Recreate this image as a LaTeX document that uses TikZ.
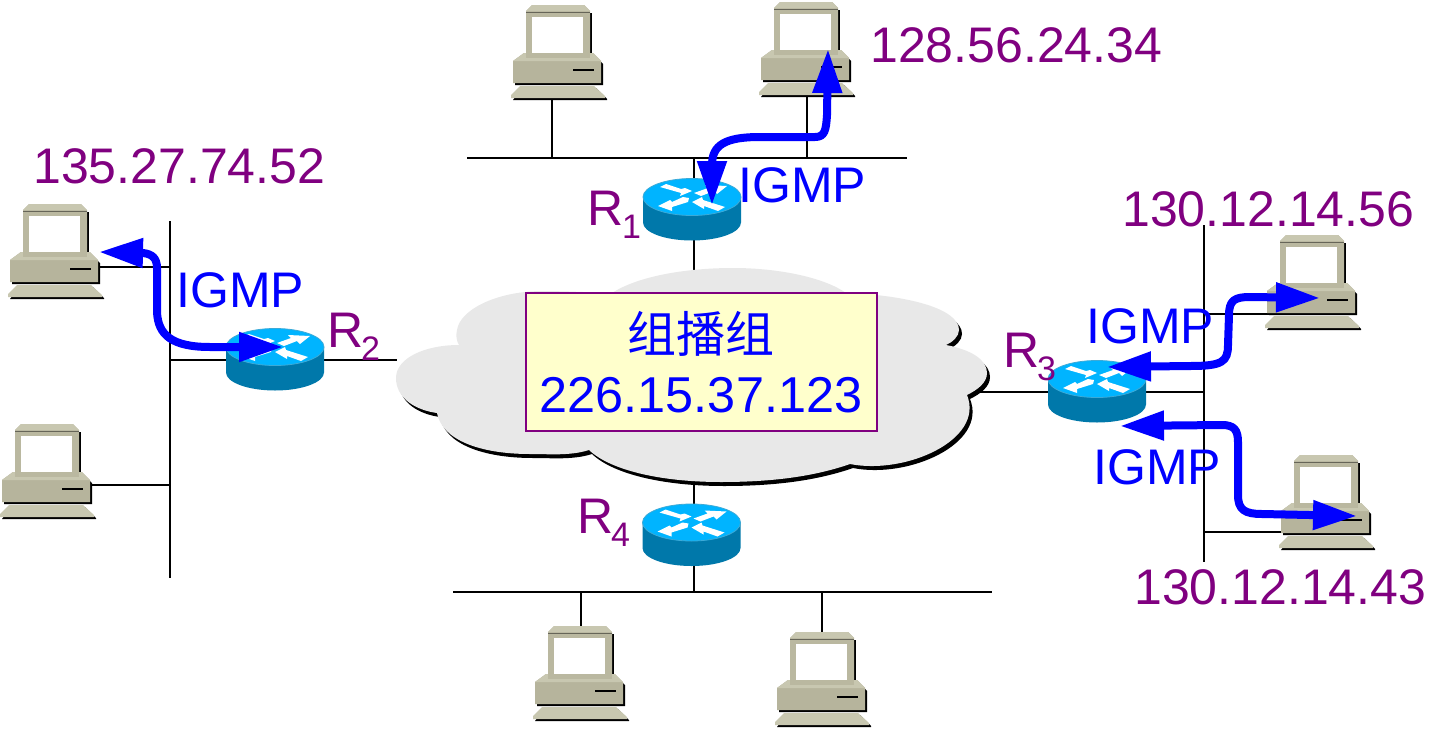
\documentclass[tikz,border=0pt]{standalone}
\usepackage{fontspec}
\setmainfont{Liberation Sans}
\newfontfamily\cjkf{Noto Sans CJK SC}
\usetikzlibrary{arrows.meta}
\definecolor{igmpblue}{RGB}{0,0,255}
\definecolor{lab}{RGB}{128,0,128}
\definecolor{monc}{RGB}{186,184,160}
\definecolor{basec}{RGB}{182,180,156}
\definecolor{keyc}{RGB}{200,199,176}
\definecolor{rtop}{RGB}{0,180,255}
\definecolor{rside}{RGB}{0,120,170}
\definecolor{rrim}{RGB}{60,170,215}
\definecolor{cloudc}{RGB}{232,232,232}
\definecolor{boxc}{RGB}{255,255,204}
\tikzset{
 x=1pt,y=-1pt,
 wire/.style={black,line width=2pt},
 sig/.style={igmpblue,line width=8pt,line join=round,{Triangle[length=44pt,width=28pt]}-{Triangle[length=44pt,width=28pt]}},
 addr/.style={anchor=base west,inner sep=0pt,text=lab,font=\fontsize{50}{50}\selectfont},
 rlab/.style={anchor=base west,inner sep=0pt,text=lab,font=\fontsize{50}{50}\selectfont},
 rsub/.style={anchor=base west,inner sep=0pt,text=lab,font=\fontsize{34}{34}\selectfont},
 igmp/.style={anchor=base west,inner sep=0pt,text=igmpblue,font=\fontsize{50}{50}\selectfont},
 computer/.pic={
  % keyboard
  \fill[black] (-4,83)--(70,83)--(81,94)--(81,95)--(-13,95)--cycle;
  \fill[keyc] (-6,81)--(68,81)--(79,91)--(79,93)--(-15,93)--(-15,90)--cycle;
  % monitor
  \fill[black] (3,8) rectangle (66,53);
  \fill[monc] (6,0)--(58,0)--(64,6)--(64,53)--(0,53)--(0,6)--cycle;
  \fill[keyc] (6,0)--(58,0)--(64,6)--(0,6)--cycle;
  \fill[white] (6,12) rectangle (57,48);
  \draw[black!45!monc,line width=.8pt] (0,7)--(64,7);
  % base
  \fill[black] (-11,59)--(-11,80)--(77,80)--(77,59)--(70,52)--(65,52)--(65,59)--cycle;
  \fill[basec] (-2,48)--(67,48)--(75,56)--(75,78)--(-13,78)--(-13,56)--cycle;
  \fill[keyc] (-2,48)--(67,48)--(75,56)--(-13,56)--cycle;
  \fill[monc] (0,48) rectangle (64,53);
  \draw[black,line width=1.2pt] (47,65)--(68,65);
 },
 router/.pic={
  \fill[rside] (-49,0)--(-49,25.5) arc[start angle=180,end angle=360,x radius=49pt,y radius=18pt]--(49,0)--cycle;
  \fill[rtop,draw=rrim,line width=.8pt] (0,0) ellipse[x radius=49pt,y radius=18.5pt];
  \fill[white] (-32,-10)--(-26,-13)--(-11,-8)--(-7,-9)--(0,-6)--(-12,-1)--(-11,-4)--cycle;
  \fill[white] (2,-4)--(16,-9)--(13,-12)--(35,-11)--(25,-3)--(22,-6)--(9,-1)--cycle;
  \fill[white] (-3,1)--(-9,0)--(-20,5)--(-22,3)--(-34,9)--(-20,14)--(-20,10)--(-4,5)--cycle;
  \fill[white] (0,5)--(10,0)--(11,3)--(33,10)--(26,14)--(12,9)--(12,12)--cycle;
 },
}
\begin{document}
\begin{tikzpicture}
\useasboundingbox (0,0) rectangle (1456,728);
\fill[white] (0,0) rectangle (1456,728);
% bus ends and taps
\coordinate (n1w) at (467,158); \coordinate (n1e) at (907,158);
\coordinate (n1a) at (552,158); \coordinate (pc1a) at (552,95);
\coordinate (n1b) at (807,158); \coordinate (pc1b) at (807,92);
\coordinate (n1c) at (694,158); \coordinate (r1in) at (694,270);
\coordinate (n2n) at (170,221); \coordinate (n2s) at (170,578);
\coordinate (n2a) at (170,267); \coordinate (pc2a) at (95,267);
\coordinate (n2r) at (170,360); \coordinate (r2in) at (397,360);
\coordinate (n2b) at (170,485); \coordinate (pc2b) at (88,485);
\coordinate (n3n) at (1204,225); \coordinate (n3s) at (1204,562);
\coordinate (n3a) at (1204,314); \coordinate (pc3a) at (1275,314);
\coordinate (n3r) at (1204,392); \coordinate (r3in) at (965,392);
\coordinate (n3b) at (1204,532); \coordinate (pc3b) at (1290,532);
\coordinate (n4w) at (453,592); \coordinate (n4e) at (992,592);
\coordinate (n4a) at (581,592); \coordinate (pc4a) at (581,630);
\coordinate (n4b) at (822,592); \coordinate (pc4b) at (822,636);
\coordinate (n4c) at (694,592); \coordinate (r4in) at (694,475);
\draw[wire] (n1w)--(n1e);
\draw[wire] (n1a)--(pc1a);
\draw[wire] (n1b)--(pc1b);
\draw[wire] (n1c)--(r1in);
\draw[wire] (n2n)--(n2s);
\draw[wire] (n2a)--(pc2a);
\draw[wire] (n2r)--(r2in);
\draw[wire] (n2b)--(pc2b);
\draw[wire] (n3n)--(n3s);
\draw[wire] (n3a)--(pc3a);
\draw[wire] (n3r)--(r3in);
\draw[wire] (n3b)--(pc3b);
\draw[wire] (n4w)--(n4e);
\draw[wire] (n4a)--(pc4a);
\draw[wire] (n4b)--(pc4b);
\draw[wire] (n4c)--(r4in);
% cloud
\def\cloudpath{(612,293) .. controls (640,275) and (690,268) .. (733,268)
 .. controls (780,268) and (825,278) .. (846,293)
 .. controls (905,295) and (959,308) .. (959,330)
 .. controls (959,336) and (953,342) .. (946,345)
 .. controls (972,350) and (987,360) .. (987,373)
 .. controls (987,383) and (977,390) .. (967,395)
 .. controls (985,440) and (905,475) .. (850,464)
 .. controls (810,478) and (765,482) .. (721,482)
 .. controls (660,482) and (610,470) .. (589,450)
 .. controls (570,456) and (550,454) .. (530,454)
 .. controls (480,454) and (442,440) .. (437,413)
 .. controls (415,410) and (396,398) .. (396,378)
 .. controls (396,358) and (425,345) .. (459,345)
 .. controls (456,340) and (456,335) .. (457,330)
 .. controls (460,310) and (495,292) .. (540,291)
 .. controls (570,291) and (600,293) .. (612,293) -- cycle}
\fill[black,shift={(3pt,-4pt)}] \cloudpath;
\fill[cloudc] \cloudpath;
\node[draw=lab,fill=boxc,line width=2.4pt,minimum width=351pt,minimum height=138pt,inner sep=0pt,anchor=center] (grp) at (701.5,362) {};
\node[inner sep=0pt,text=igmpblue,font=\fontsize{49}{49}\selectfont\cjkf] (grpa) at (701,334) {组播组};
\node[anchor=base,inner sep=0pt,text=igmpblue,font=\fontsize{50.4}{50.4}\selectfont] (grpb) at (701,412) {226.15.37.123};
% routers
\pic (r1) at (692,197) {router};
\pic (r2) at (275,347) {router};
\pic (r3) at (1097,379) {router};
\pic (r4) at (691.5,522.5) {router};
% computers
\pic (c1) at (526,5) {computer};
\pic (c2) at (774,2) {computer};
\pic (c3) at (23,204) {computer};
\pic (c4) at (15,424) {computer};
\pic (c5) at (1280,235) {computer};
\pic (c6) at (1294,455) {computer};
\pic (c7) at (548,626) {computer};
\pic (c8) at (790,632) {computer};
% labels
\node[addr] (ip1) at (870,62) {128.56.24.34};
\node[addr] (ip2) at (33,183) {135.27.74.52};
\node[addr] (ip3) at (1122,226) {130.12.14.56};
\node[addr] (ip4) at (1134,604) {130.12.14.43};
\node[rlab] (l1) at (587,225) {R}; \node[rsub] (l1s) at (622,238) {1};
\node[rlab] (l2) at (327,347) {R}; \node[rsub] (l2s) at (361,360) {2};
\node[rlab] (l3) at (1003,367) {R}; \node[rsub] (l3s) at (1037,380) {3};
\node[rlab] (l4) at (577,533) {R}; \node[rsub] (l4s) at (611,546) {4};
\node[igmp] (g1) at (738,202) {IGMP};
\node[igmp] (g2) at (176,307) {IGMP};
\node[igmp] (g3) at (1086,343) {IGMP};
\node[igmp] (g4) at (1093,484) {IGMP};
% IGMP signals
\coordinate (s1a) at (712,205); \coordinate (s1b) at (828,49);
\coordinate (s2a) at (99,252); \coordinate (s2b) at (283,347);
\coordinate (s3a) at (1107,367); \coordinate (s3b) at (1320,298);
\coordinate (s4a) at (1120,426); \coordinate (s4b) at (1357,516);
\draw[sig] (s1a)--(712,165) .. controls (712,145) and (725,137) .. (760,137) -- (815,137) .. controls (825,137) and (826,130) .. (827,115) -- (s1b);
\draw[sig] (s2a)--(143,253) .. controls (152,254) and (157,258) .. (157,268) -- (157,312) .. controls (158,335) and (172,347) .. (210,347) -- (s2b);
\draw[sig] (s3a)--(1190,366) .. controls (1222,366) and (1228,362) .. (1228,345) -- (1229,315) .. controls (1229,300) and (1235,297) .. (1250,297) -- (s3b);
\draw[sig] (s4a)--(1222,425) .. controls (1234,425) and (1238,430) .. (1238,442) -- (1238,495) .. controls (1238,510) and (1245,514) .. (1262,514) -- (s4b);
\end{tikzpicture}
\end{document}
